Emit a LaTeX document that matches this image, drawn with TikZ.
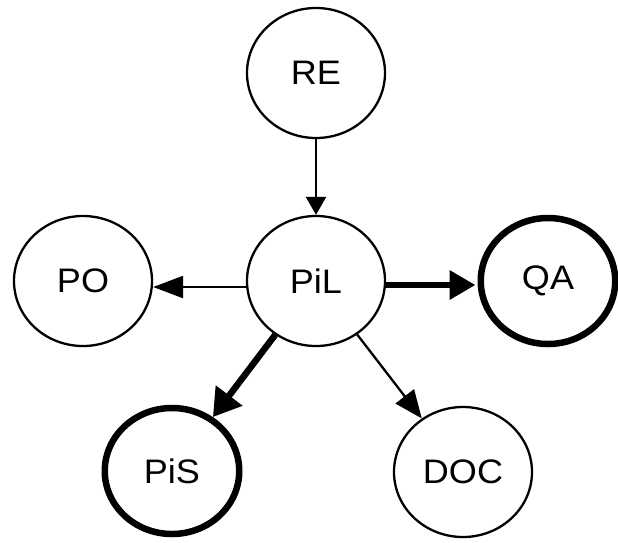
\documentclass[tikz,border=0pt]{standalone}
\usepackage{fontspec}
\setmainfont{Liberation Sans}
\usetikzlibrary{arrows.meta,shapes.geometric}
\tikzset{
  st/.style={ellipse,draw=black,fill=white,minimum width=138pt,minimum height=130pt,inner sep=0pt,line width=2.3pt,
    font=\fontsize{34}{40}\selectfont},
  stthick/.style={st,line width=6.5pt,minimum width=134.5pt,minimum height=126pt},
  thinarrow/.style={draw=black,line width=2.3pt},
  thickarrow/.style={draw=black,line width=6.5pt},
}
\newcommand{\lbl}[1]{\scalebox{1.06}[1]{#1}}
\begin{document}
\begin{tikzpicture}[x=1pt,y=-1pt]
\useasboundingbox (0,0) rectangle (618,542);
\fill[white] (0,0) rectangle (618,542);
\node[st] (RE) at (316,73) {\lbl{RE}};
\node[st] (PiL) at (316,281) {\lbl{PiL}};
\node[st] (PO) at (83,281) {\lbl{PO}};
\node[stthick] (QA) at (548,281) {\lbl{QA}};
\node[stthick] (PiS) at (172,471) {\lbl{PiS}};
\node[st] (DOC) at (463,472) {\lbl{DOC}};
\draw[thinarrow,-{Triangle[length=18pt,width=20pt]}] (RE) -- (PiL);
\draw[thinarrow,-{Triangle[length=30pt,width=22pt]}] ([yshift=-6pt]PiL.west) -- ([yshift=-6pt]PO.east);
\draw[thickarrow,-{Triangle[length=26pt,width=28pt]}] ([yshift=-4pt]PiL.east) -- ([yshift=-4pt,xshift=-2pt]QA.west);
\draw[thickarrow,-{Triangle[length=27pt,width=32pt]}] (PiL) -- (PiS);
\draw[thinarrow,-{Triangle[length=28pt,width=23pt]}] (PiL) -- (DOC);
\end{tikzpicture}
\end{document}
